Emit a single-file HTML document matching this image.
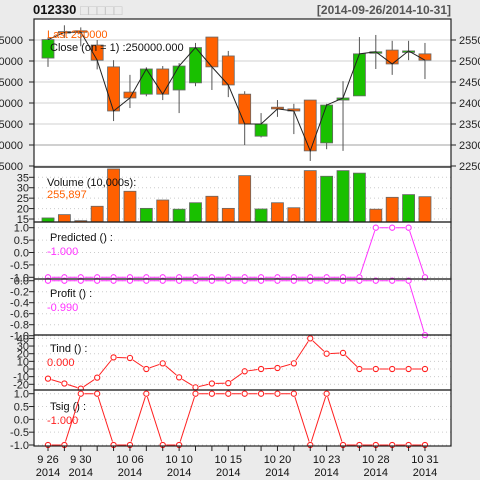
<!DOCTYPE html>
<html><head><meta charset="utf-8"><style>
html,body{margin:0;padding:0;background:#ebebeb;}
svg{display:block;font-family:"Liberation Sans","Noto Sans CJK KR",sans-serif;}
</style></head><body>
<svg id="c" width="480" height="480" viewBox="0 0 480 480"></svg>
<script>
const dates=["9 26","9 27","9 30","10 01","10 02","10 06","10 07","10 08","10 10","10 13","10 14","10 15","10 16","10 17","10 20","10 21","10 22","10 23","10 24","10 27","10 28","10 29","10 30","10 31"];
const xLabelIdx=[0,2,5,8,11,14,17,20,23];
const xLabels=["9 26","9 30","10 06","10 10","10 15","10 20","10 23","10 28","10 31"];
const opens=[2507,2570,2572,2538,2486,2426,2421,2481,2431,2448,2557,2512,2421,2321,2390,2386,2407,2305,2407,2417,2521,2526,2521,2517];
const closes=[2551,2568,2569,2502,2381,2412,2481,2421,2488,2532,2486,2443,2350,2350,2386,2381,2286,2395,2412,2517,2522,2493,2524,2502];
const highs=[2556,2585,2580,2550,2502,2467,2485,2488,2495,2543,2557,2524,2428,2376,2407,2398,2407,2398,2452,2557,2562,2548,2548,2543];
const lows=[2486,2555,2535,2480,2357,2388,2416,2407,2376,2440,2431,2414,2300,2318,2367,2326,2262,2290,2286,2417,2481,2467,2502,2457];
const volumes=[15.5,17.1,14.2,21.1,39,28.3,20.1,24.1,19.7,22.8,25.9,20.1,35.8,19.8,22.8,20.4,38.2,35.5,38.2,37,19.7,25.4,26.7,25.7];
const volUp=[1,0,0,0,0,0,1,0,1,1,0,0,0,1,0,0,0,1,1,1,0,0,1,0];
const predicted=[-1,-1,-1,-1,-1,-1,-1,-1,-1,-1,-1,-1,-1,-1,-1,-1,-1,-1,-1,-1,1,1,1,-1];
const profit=[0,0,0,0,0,0,0,0,0,0,0,0,0,0,0,0,0,0,0,0,0,0,0,-0.99];
const tind=[-12.6,-19,-25.7,-11.3,15.2,14.4,0,7.4,-10.9,-24,-19,-18.5,-3,0,1.3,7.4,40,20,21,0,0,0,0,0];
const tsig=[-1,-1,1,1,-1,-1,1,-1,-1,1,1,1,1,1,1,1,-1,1,-1,-1,-1,-1,-1,-1];
const priceTicks=[2550,2500,2450,2400,2350,2300,2250];
const volTicks=[35,30,25,20,15];
const predTicks=[1,0.5,0,-0.5,-1];
const profTicks=[0,-0.2,-0.4,-0.6,-0.8,-1];
const tindTicks=[40,30,20,10,0,-10,-20];

const S=document.getElementById('c');const NS='http://www.w3.org/2000/svg';
function el(t,a,txt){const e=document.createElementNS(NS,t);for(const k in a)e.setAttribute(k,a[k]);if(txt!==undefined)e.textContent=txt;S.appendChild(e);return e;}
const L=34,R=451;
const X=i=>48+i*16.39;
const GREEN='#19c000',ORANGE='#ff6000';
function lin(v0,y0,v1,y1){return v=>y0+(v-v0)*(y1-y0)/(v1-v0);}
const panels=[[19,167],[167,222],[222,279],[279,335],[335,390],[390,446]];
panels.forEach((p,i)=>{const r=el('rect',{x:L,y:p[0],width:R-L,height:p[1]-p[0],fill:'#fff'});});
let t=el('text',{x:33,y:14,'font-size':13,'font-weight':'bold',fill:'#111'},'012330');
t=el('text',{x:80,y:15,'font-size':14,fill:'#c4c4c4'},'□□□□□');
t=el('text',{x:451,y:14,'font-size':12,'font-weight':'bold',fill:'#555','text-anchor':'end'},'[2014-09-26/2014-10-31]');
const PY=lin(2550,40,2250,166);
priceTicks.forEach(v=>{const y=PY(v);
 let g=el('line',{x1:L,x2:R,y1:y,y2:y,stroke:'#d0d0d0','stroke-width':v==2300?2:1});
 let a=el('text',{x:23,y:y+4,'font-size':11,fill:'#222','text-anchor':'end'},String(v*100));
 let b=el('text',{x:459,y:y+4,'font-size':11,fill:'#222'},String(v));
 el('line',{x1:R,x2:R+5,y1:y,y2:y,stroke:'#222'});el('line',{x1:L-5,x2:L,y1:y,y2:y,stroke:'#222'});
});
opens.forEach((o,i)=>{const c=closes[i],x=X(i),up=c>=o;
 let w=el('line',{x1:x,x2:x,y1:PY(highs[i]),y2:PY(lows[i]),stroke:'#555'});
 const top=PY(Math.max(o,c)),h=Math.max(PY(Math.min(o,c))-top,1.5);
 let b=el('rect',{x:x-6,y:top,width:12,height:h,fill:up?GREEN:ORANGE,stroke:'#666','stroke-width':0.8});
});
let pl=el('polyline',{points:closes.map((c,i)=>X(i)+','+PY(c)).join(' '),fill:'none',stroke:'#222','stroke-width':1});
t=el('text',{x:47,y:38,'font-size':11,fill:ORANGE},'Last 250000');
t=el('text',{x:50,y:51,'font-size':11,fill:'#111'},'Close (on = 1) :250000.000');
function ticksDotted(vals,Y,lbl){vals.forEach(v=>{const y=Y(v);
 let g=el('line',{x1:L,x2:R,y1:y,y2:y,stroke:'#ccc','stroke-dasharray':'1,3'});
 el('line',{x1:L-5,x2:L,y1:y,y2:y,stroke:'#222'});
 let a=el('text',{x:29,y:y+4,'font-size':11,fill:'#222','text-anchor':'end'},lbl(v));});}
const VY=lin(15,219,35,177.3);
ticksDotted(volTicks,VY,v=>String(v));
volumes.forEach((v,i)=>{let b=el('rect',{x:X(i)-6,y:VY(v),width:12,height:222-VY(v),fill:volUp[i]?GREEN:ORANGE,stroke:'#666','stroke-width':0.8});});
t=el('text',{x:47,y:186,'font-size':11,fill:'#111'},'Volume (10,000s):');
t=el('text',{x:47,y:198,'font-size':11,fill:ORANGE},'255,897');
function series(vals,Y,col,name){let p=el('polyline',{points:vals.map((v,i)=>X(i)+','+Y(v)).join(' '),fill:'none',stroke:col,'stroke-width':1});
 vals.forEach((v,i)=>{el('circle',{cx:X(i),cy:Y(v),r:3.6,fill:'#fff',stroke:'none'});let c=el('circle',{cx:X(i),cy:Y(v),r:2.6,fill:'#fff',stroke:col,'stroke-width':1.1});});}
function legend(y,title,val,col,name){let a=el('text',{x:50,y:y,'font-size':11,fill:'#111'},title);
 let b=el('text',{x:47,y:y+14,'font-size':11,fill:col},val);}
const MAG='#ff33ff',RED='#ff2020';
const PrY=lin(1,227.7,-1,277.3);ticksDotted(predTicks,PrY,v=>v.toFixed(1));legend(241,'Predicted () :','-1.000',MAG,'predicted');series(predicted,PrY,MAG,'predicted');
const PfY=lin(0,280.7,-1,335.7);ticksDotted(profTicks,PfY,v=>v.toFixed(1));legend(297,'Profit () :','-0.990',MAG,'profit');series(profit,PfY,MAG,'profit');
const TY=lin(0,369,40,338.4);ticksDotted(tindTicks,TY,v=>String(v));legend(352,'Tind () :','0.000',RED,'tind');series(tind,TY,RED,'tind');
const SY=lin(1,393.7,-1,445);ticksDotted(predTicks,SY,v=>v.toFixed(1));legend(410,'Tsig () :','-1.000',RED,'tsig');series(tsig,SY,RED,'tsig');
panels.forEach(p=>{el('rect',{x:L,y:p[0],width:R-L,height:p[1]-p[0],fill:'none',stroke:'#222','stroke-width':1.2});});
dates.forEach((d,i)=>{el('line',{x1:X(i),x2:X(i),y1:446,y2:451,stroke:'#222'});});
xLabelIdx.forEach((idx,k)=>{let a=el('text',{x:X(idx),y:463,'font-size':11,fill:'#111','text-anchor':'middle'},xLabels[k]);
 let b=el('text',{x:X(idx),y:476,'font-size':11,fill:'#111','text-anchor':'middle'},'2014');});
</script>
</body></html>
